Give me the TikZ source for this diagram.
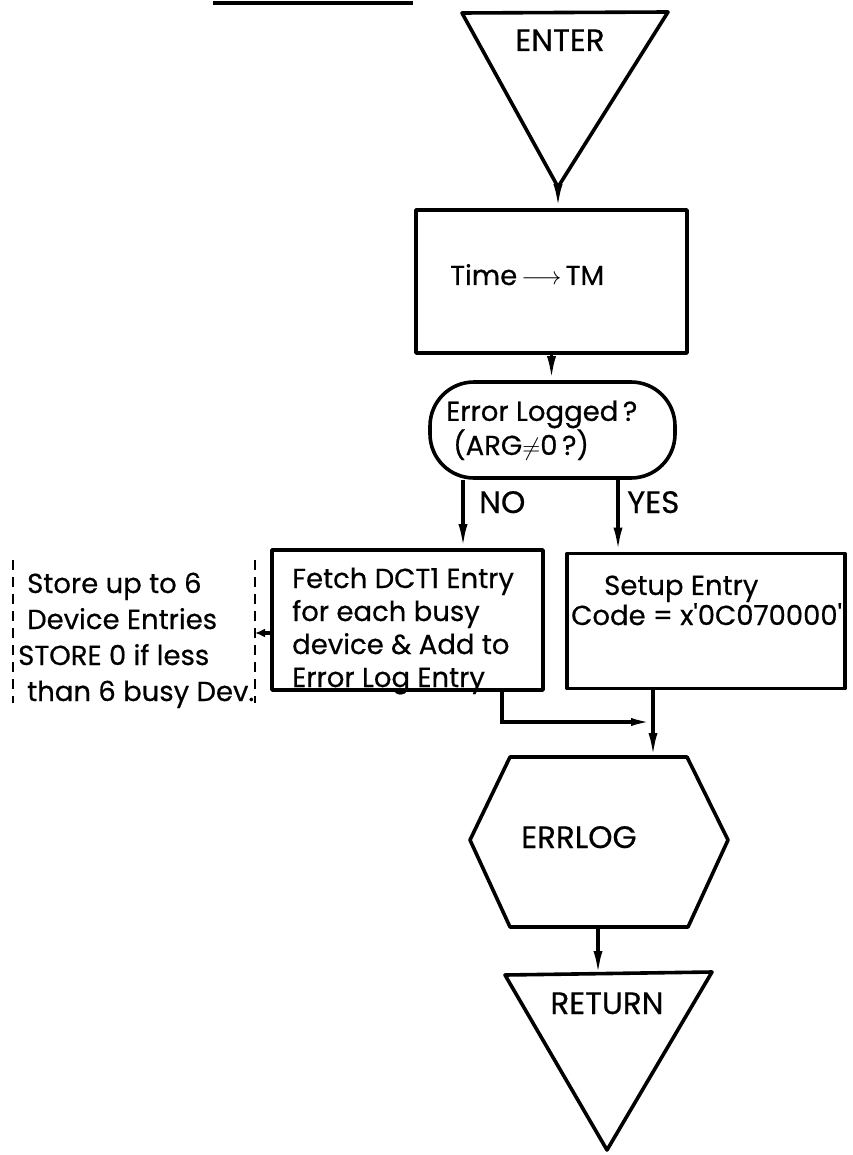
\documentclass[tikz,border=0pt]{standalone}
\usepackage{fontspec}
\setmainfont{Poppins}[FakeBold=0.5]
\usetikzlibrary{arrows.meta}
\begin{document}
\begin{tikzpicture}[x=1pt,y=-1pt,
  outline/.style={line width=3.6pt,line join=round},
  box/.style={draw,outline,inner sep=0pt},
  txt/.style={font=\fontsize{27.5}{33}\selectfont,inner sep=0pt,anchor=base west,align=left},
  caps/.style={txt,font=\fontsize{31}{33}\selectfont},
  flow/.style={line width=3.4pt,-{Latex[length=24pt,width=9pt]}},
  note/.style={dash pattern=on 10pt off 7pt,line width=2.6pt}]
\fill[white] (0,0) rectangle (852,1155);
\useasboundingbox (0,0) rectangle (852,1155);

% heading rule
\draw[line width=4.5pt] (213,3) -- (413,3);

% entry terminal
\coordinate (enterL) at (462,13);
\coordinate (enterR) at (668,12);
\coordinate (enterTip) at (558,187);
\draw[outline] (enterL) -- (enterR) -- (enterTip) -- cycle;
\node[caps,anchor=base] (enter) at (560,51) {ENTER};

% time stamp
\node[box,minimum width=271pt,minimum height=143pt] (time) at (551.5,281.5) {};
\node[txt] (timetext) at (450,285) {Time$\,\longrightarrow\,$TM};

% decision (multi-line texts are placed by the baseline of their last line)
\node[box,rounded corners=44pt,minimum width=245pt,minimum height=96pt] (test) at (552.5,430) {};
\node[txt,font=\fontsize{27.5}{27}\selectfont] (testtext) at (446,455)
  {Error Logged\,?\\\hspace{7pt}(ARG$\neq$0\,?)};

% branches
\node[box,minimum width=271pt,minimum height=140pt] (fetch) at (407.5,620) {};
\node[txt] (fetchtext) at (292,687)
  {Fetch DCT1 Entry\\for each busy\\device \& Add to\\Error Log Entry};
\node[box,minimum width=278pt,minimum height=135pt] (setup) at (706,621) {};
\node[txt,font=\fontsize{27.5}{27}\selectfont] (setuptext) at (571,625)
  {\hspace{33pt}Setup Entry\\Code = x\textquotesingle 0C070000\textquotesingle};

% side note
\draw[note] (13,560) -- (13,703);
\draw[note] (255,560) -- (255,703);
\coordinate (noteTip) at (255,633);
\node[txt,font=\fontsize{27.5}{36}\selectfont] (notetext) at (27,701)
  {Store up to 6\\Device Entries\\\hspace{-9pt}STORE 0 if less\\than 6 busy Dev.};

% error log call
\coordinate (h1) at (510,757);
\coordinate (h2) at (687,757);
\coordinate (h3) at (728,840);
\coordinate (h4) at (688,927);
\coordinate (h5) at (510,927);
\coordinate (h6) at (470,840);
\draw[outline] (h1) -- (h2) -- (h3) -- (h4) -- (h5) -- (h6) -- cycle;
\node[caps] (errlog) at (521,848) {ERRLOG};

% return terminal
\coordinate (retL) at (505,975);
\coordinate (retR) at (712,972);
\coordinate (retTip) at (607,1150);
\draw[outline] (retL) -- (retR) -- (retTip) -- cycle;
\node[caps,anchor=base] (return) at (607,1014) {RETURN};

% connectors
\coordinate (noX) at (463,0);
\coordinate (yesX) at (618,0);
\coordinate (join) at (653,722);
\coordinate (errlogOut) at (598,927);
\draw[flow] (enterTip) -- (enterTip |- time.north);
\draw[flow] (time.south) -- (time.south |- test.north);
\draw[flow] (test.south -| noX) -- (fetch.north -| noX);
\draw[flow] (test.south -| yesX) -- (setup.north -| yesX);
\node[caps] (no) at (479,513) {NO};
\node[caps] (yes) at (627,513) {YES};
\draw[line width=3.4pt,-{Latex[length=10pt,width=9pt]}] (fetch.west |- noteTip) -- (noteTip);
\draw[line width=3.4pt,-{Latex[length=22pt,width=8pt]}] ([xshift=94.5pt]fetch.south) |- (join);
\draw[flow] (setup.south -| join) -- (join |- h1);
\draw[flow] (errlogOut) -- (errlogOut |- retL);
\end{tikzpicture}
\end{document}
